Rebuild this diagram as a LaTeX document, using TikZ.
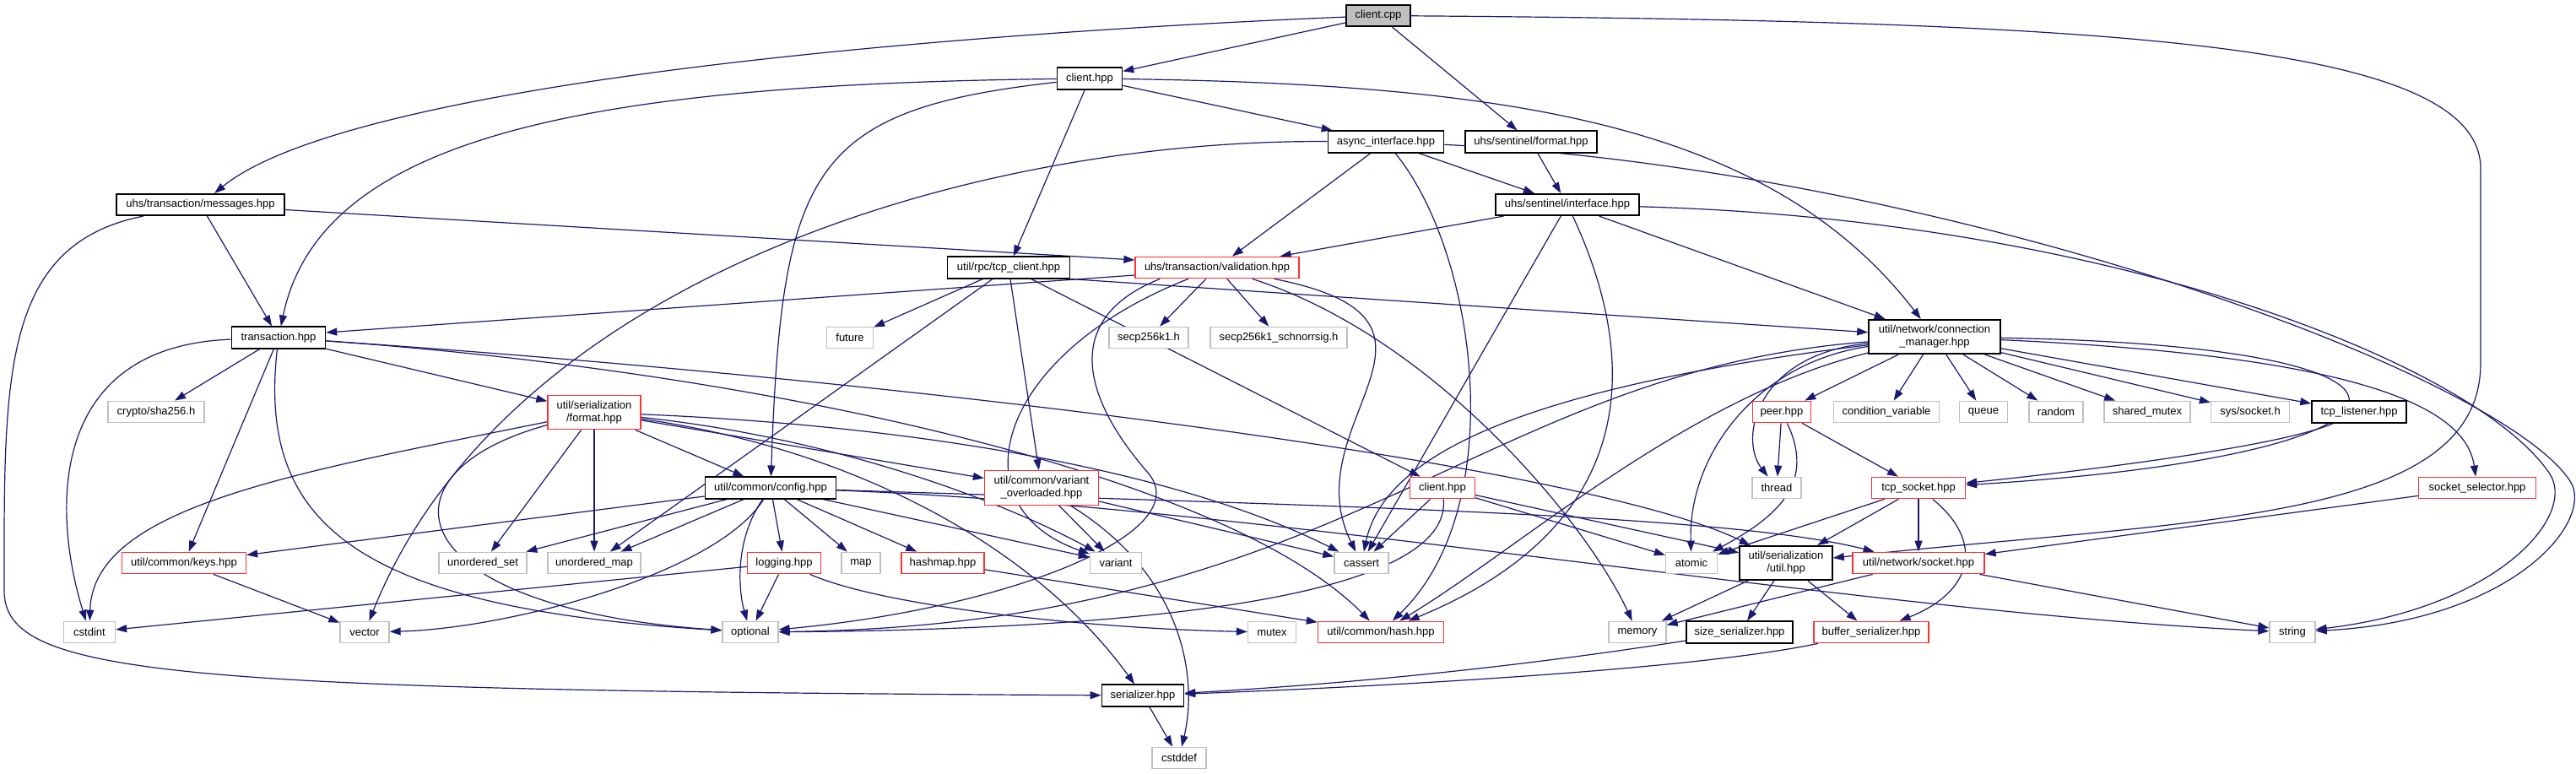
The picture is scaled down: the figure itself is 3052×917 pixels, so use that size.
\documentclass[tikz,border=0pt]{standalone}
\usepackage{fontspec}
\setmainfont{Liberation Sans}
\usepackage{tikz}
\usetikzlibrary{arrows.meta, backgrounds}
\definecolor{edgeblue}{HTML}{191970}
\definecolor{sysgray}{HTML}{BFBFBF}
\definecolor{truncred}{HTML}{FF3030}
\tikzset{
    file/.style={draw=black, rectangle, fill=white, line width=1.6pt, inner sep=2pt, minimum height=25.5pt, align=center, font=\fontsize{13}{15}\selectfont},
    arrow/.style={-{Triangle[length=13pt,width=9pt]}, draw=edgeblue, line width=1.2pt}
}

\begin{document}
\begin{tikzpicture}[x=1pt, y=-1pt]

        % -----------------------------------------------------------------
        % STILI DEI NODI
        % -----------------------------------------------------------------
        \tikzset{
            src_node/.style={file, fill=sysgray},
            sys_node/.style={file, draw=sysgray, line width=1.3pt},
            trunc_node/.style={file, draw=truncred, line width=1.3pt},
            two_line/.style={minimum height=40.5pt}
        }

        \useasboundingbox (0,0) rectangle (3052,917);

        % =================================================================
        % TOP ROWS
        % =================================================================
        \node (cpp) [src_node, minimum width=76] at (1633,18.5) {client.cpp};
        \node (chpp) [file, minimum width=77] at (1291,93) {client.hpp};
        \node (async) [file, minimum width=137] at (1642,168) {async\_interface.hpp};
        \node (sfmt) [file, minimum width=156] at (1814,168) {uhs/sentinel/format.hpp};
        \node (msgs) [file, minimum width=199] at (237.5,242.5) {uhs/transaction/messages.hpp};
        \node (sif) [file, minimum width=170] at (1857,242.5) {uhs/sentinel/interface.hpp};
        \node (tcpc) [file, minimum width=145] at (1195,317) {util/rpc/tcp\_client.hpp};
        \node (valid) [trunc_node, minimum width=194] at (1442,317) {uhs/transaction/validation.hpp};

        % =================================================================
        % MIDDLE ROWS
        % =================================================================
        \node (tx) [file, minimum width=111] at (330,400) {transaction.hpp};
        \node (future) [sys_node, minimum width=55] at (1007,400) {future};
        \node (secp) [sys_node, minimum width=94] at (1361,400) {secp256k1.h};
        \node (schnorr) [sys_node, minimum width=162] at (1515,400) {secp256k1\_schnorrsig.h};
        \node (cm) [file, two_line, minimum width=156] at (2292,399) {util/network/connection\\\_manager.hpp};

        \node (sha) [sys_node, minimum width=114] at (185,488) {crypto/sha256.h};
        \node (fmt) [trunc_node, two_line, minimum width=110] at (704,488.5) {util/serialization\\/format.hpp};
        \node (peer) [trunc_node, minimum width=69] at (2111,488) {peer.hpp};
        \node (condvar) [sys_node, minimum width=125] at (2235,488) {condition\_variable};
        \node (queue) [sys_node, minimum width=57] at (2350,488) {queue};
        \node (random) [sys_node, minimum width=64] at (2436,488) {random};
        \node (shmutex) [sys_node, minimum width=102] at (2544,488) {shared\_mutex};
        \node (syssock) [sys_node, minimum width=93] at (2666,488) {sys/socket.h};
        \node (tcpl) [file, minimum width=112] at (2795,488) {tcp\_listener.hpp};

        \node (config) [file, minimum width=155] at (913,578) {util/common/config.hpp};
        \node (varov) [trunc_node, two_line, minimum width=135] at (1234,578) {util/common/variant\\\_overloaded.hpp};
        \node (cli2) [trunc_node, minimum width=77] at (1709,578) {client.hpp};
        \node (thread) [sys_node, minimum width=58] at (2105,578) {thread};
        \node (tcps) [trunc_node, minimum width=111] at (2273,578) {tcp\_socket.hpp};
        \node (ssel) [trunc_node, minimum width=139] at (2935,578) {socket\_selector.hpp};

        % =================================================================
        % BOTTOM ROWS
        % =================================================================
        \node (keys) [trunc_node, minimum width=147] at (218,667) {util/common/keys.hpp};
        \node (uset) [sys_node, minimum width=104] at (572,667) {unordered\_set};
        \node (umap) [sys_node, minimum width=110] at (704,667) {unordered\_map};
        \node (logging) [trunc_node, minimum width=87] at (929,667) {logging.hpp};
        \node (map) [sys_node, minimum width=46] at (1020,667) {map};
        \node (hashmap) [trunc_node, minimum width=98] at (1117,667) {hashmap.hpp};
        \node (variant) [sys_node, minimum width=61] at (1322,667) {variant};
        \node (cassert) [sys_node, minimum width=64] at (1613,667) {cassert};
        \node (atomic) [sys_node, minimum width=61] at (2004,667) {atomic};
        \node (sutil) [file, two_line, minimum width=110] at (2116,667) {util/serialization\\/util.hpp};
        \node (sock) [trunc_node, minimum width=156] at (2273,667) {util/network/socket.hpp};

        \node (cstdint) [sys_node, minimum width=61] at (106,749) {cstdint};
        \node (vector) [sys_node, minimum width=58] at (432,749) {vector};
        \node (optional) [sys_node, minimum width=66] at (889,749) {optional};
        \node (mutex) [sys_node, minimum width=57] at (1507,749) {mutex};
        \node (hash) [trunc_node, minimum width=149] at (1636,749) {util/common/hash.hpp};
        \node (memory) [sys_node, minimum width=68] at (1940,749) {memory};
        \node (sizeser) [file, minimum width=126] at (2061,749) {size\_serializer.hpp};
        \node (bufser) [trunc_node, minimum width=136] at (2217,749) {buffer\_serializer.hpp};
        \node (string) [sys_node, minimum width=54] at (2716,749) {string};

        \node (ser) [file, minimum width=97] at (1354,824) {serializer.hpp};
        \node (cstddef) [sys_node, minimum width=64] at (1397,898) {cstddef};

        % punti di svolta dei percorsi lunghi
        \coordinate (rtop) at (2939,200);
        \coordinate (rbot) at (2939,430);
        \coordinate (lbend) at (5,700);
        \coordinate (asyncturn) at (3045,570);
        \coordinate (sifturn) at (3020,560);
        \coordinate (voptturn) at (1360,560);

        % =================================================================
        % CONNESSIONI
        % =================================================================
        \begin{scope}[on background layer]
            % client.cpp
            \draw[arrow] (cpp) .. controls (1000,45) and (400,110) .. (msgs);
            \draw[arrow] (cpp) -- (chpp);
            \draw[arrow] (cpp) -- (sfmt);
            \draw[arrow] (cpp) .. controls (2500,25) and (2939,50) .. (rtop) -- (rbot) .. controls (2939,620) and (2600,615) .. (sutil);

            % client.hpp
            \draw[arrow] (chpp) .. controls (700,100) and (380,160) .. (tx);
            \draw[arrow] (chpp) -- (tcpc);
            \draw[arrow] (chpp) -- (async);
            \draw[arrow] (chpp) .. controls (1800,100) and (2100,150) .. (cm);
            \draw[arrow] (chpp) .. controls (960,130) and (926,200) .. (config);

            % messages
            \draw[arrow] (msgs) -- (tx);
            \draw[arrow] ([yshift=-6pt]msgs.east) -- ([yshift=9pt]valid.west);
            \draw[arrow] (msgs) .. controls (0,290) and (5,450) .. (lbend) .. controls (5,800) and (200,818) .. (ser);

            % async_interface
            \draw[arrow] (async) -- (valid);
            \draw[arrow] (async) -- (sif);
            \draw[arrow] (async) .. controls (1150,165) and (600,330) .. (vector);
            \draw[arrow] (async) .. controls (1750,300) and (1790,600) .. (hash);
            \draw[arrow] (async) .. controls (2300,200) and (2960,440) .. (asyncturn) .. controls (3075,616) and (2980,735) .. (string);

            % sentinel
            \draw[arrow] (sfmt) -- (sif);
            \draw[arrow] (sif) -- (valid);
            \draw[arrow] (sif) -- (cm);
            \draw[arrow] (sif) -- (cassert);
            \draw[arrow] (sif) .. controls (1940,420) and (1950,620) .. (hash);
            \draw[arrow] (sif) .. controls (2500,260) and (2930,430) .. (sifturn) .. controls (3055,610) and (2960,720) .. (string);

            % tcp_client
            \draw[arrow] (tcpc) -- (future);
            \draw[arrow] (tcpc) -- (umap);
            \draw[arrow] (tcpc) -- (varov);
            \draw[arrow] (tcpc) -- (cli2);
            \draw[arrow] (tcpc.south east) -- (cm);

            % validation
            \draw[arrow] ([yshift=-9pt]valid.west) -- ([yshift=6pt]tx.east);
            \draw[arrow] (valid) -- (secp);
            \draw[arrow] (valid) -- (schnorr);
            \draw[arrow] (valid) .. controls (1180,420) and (1130,600) .. (variant);
            \draw[arrow] ([xshift=30pt]valid.south west) .. controls (1250,380) and (1290,480) .. (voptturn) .. controls (1420,630) and (1200,720) .. (optional);
            \draw[arrow] (valid) .. controls (1760,380) and (1530,500) .. (cassert);
            \draw[arrow] (valid) .. controls (1700,400) and (1880,620) .. (memory);

            % transaction
            \draw[arrow] (tx) -- (sha);
            \draw[arrow] (tx) -- (keys);
            \draw[arrow] (tx) -- (fmt);
            \draw[arrow] (tx) .. controls (60,410) and (60,600) .. (cstdint);
            \draw[arrow] (tx) .. controls (305,620) and (420,720) .. (optional);
            \draw[arrow] (tx) .. controls (900,440) and (1450,560) .. (hash);
            \draw[arrow] (tx) .. controls (1200,460) and (1900,560) .. (sutil);

            % format
            \draw[arrow] (fmt) .. controls (350,560) and (110,600) .. (cstdint);
            \draw[arrow] (fmt) .. controls (440,560) and (470,720) .. (optional);
            \draw[arrow] (fmt) -- (uset);
            \draw[arrow] (fmt) -- (umap);
            \draw[arrow] (fmt) -- (config);
            \draw[arrow] (fmt) -- (varov);
            \draw[arrow] (fmt) .. controls (1000,520) and (1200,600) .. (variant);
            \draw[arrow] (fmt) .. controls (1100,505) and (1400,560) .. (cassert);
            \draw[arrow] (fmt) .. controls (1000,530) and (1220,640) .. (ser);

            % config
            \draw[arrow] (config) -- (keys);
            \draw[arrow] (config) -- (uset);
            \draw[arrow] (config) -- (umap);
            \draw[arrow] (config) -- (logging);
            \draw[arrow] (config) -- (map);
            \draw[arrow] (config) -- (hashmap);
            \draw[arrow] (config) -- (variant);
            \draw[arrow] (config) .. controls (850,680) and (600,745) .. (vector);
            \draw[arrow] (config) .. controls (870,640) and (875,700) .. (optional);
            \draw[arrow] (config) .. controls (1600,600) and (2050,610) .. (sock);
            \draw[arrow] (config) .. controls (1500,600) and (2200,725) .. (string);

            % logging, keys, hashmap, variant_overloaded, serializer
            \draw[arrow] (logging) -- (cstdint);
            \draw[arrow] (logging) -- (optional);
            \draw[arrow] (logging) .. controls (1050,720) and (1300,745) .. (mutex);
            \draw[arrow] (keys) -- (vector);
            \draw[arrow] (hashmap) -- (hash);
            \draw[arrow] (varov) -- (variant);
            \draw[arrow] (varov) -- (cassert);
            \draw[arrow] (varov) .. controls (1400,680) and (1420,800) .. (cstddef);
            \draw[arrow] (ser) -- (cstddef);

            % client.hpp (rosso)
            \draw[arrow] (cli2) -- (cassert);
            \draw[arrow] (cli2) -- (atomic);
            \draw[arrow] (cli2) -- (sutil);
            \draw[arrow] (cli2) .. controls (1720,700) and (1400,745) .. (optional);

            % connection_manager
            \draw[arrow] (cm) -- (peer);
            \draw[arrow] (cm) -- (condvar);
            \draw[arrow] (cm) -- (queue);
            \draw[arrow] (cm) -- (random);
            \draw[arrow] (cm) -- (shmutex);
            \draw[arrow] (cm) -- (syssock);
            \draw[arrow] (cm) -- (tcpl);
            \draw[arrow] (cm) .. controls (2080,420) and (2060,520) .. (thread);
            \draw[arrow] (cm) .. controls (2080,430) and (2000,540) .. (atomic);
            \draw[arrow] (cm) .. controls (1800,460) and (1640,540) .. (cassert);
            \draw[arrow] (cm) .. controls (1750,440) and (1600,740) .. (optional);
            \draw[arrow] (cm) .. controls (2000,470) and (1800,650) .. (hash);
            \draw[arrow] (cm) .. controls (2950,410) and (2900,540) .. (tcps);
            \draw[arrow] (cm) .. controls (2750,420) and (2920,470) .. (ssel);

            % network
            \draw[arrow] (peer) -- (thread);
            \draw[arrow] (peer) -- (tcps);
            \draw[arrow] (peer) .. controls (2150,570) and (2110,610) .. (atomic);
            \draw[arrow] (tcpl) .. controls (2700,530) and (2450,560) .. (tcps);
            \draw[arrow] (tcps) -- (atomic);
            \draw[arrow] (tcps) -- (sutil);
            \draw[arrow] (tcps) -- (sock);
            \draw[arrow] (tcps) .. controls (2350,640) and (2340,700) .. (bufser);
            \draw[arrow] (ssel) -- (sock);
            \draw[arrow] (sutil) -- (memory);
            \draw[arrow] (sutil) -- (sizeser);
            \draw[arrow] (sutil) -- (bufser);
            \draw[arrow] (sock) -- (memory);
            \draw[arrow] (sock) -- (string);
            \draw[arrow] (sizeser) .. controls (1800,790) and (1600,810) .. (ser);
            \draw[arrow] (bufser) .. controls (2000,795) and (1600,815) .. (ser);
        \end{scope}

    \end{tikzpicture}
\end{document}
